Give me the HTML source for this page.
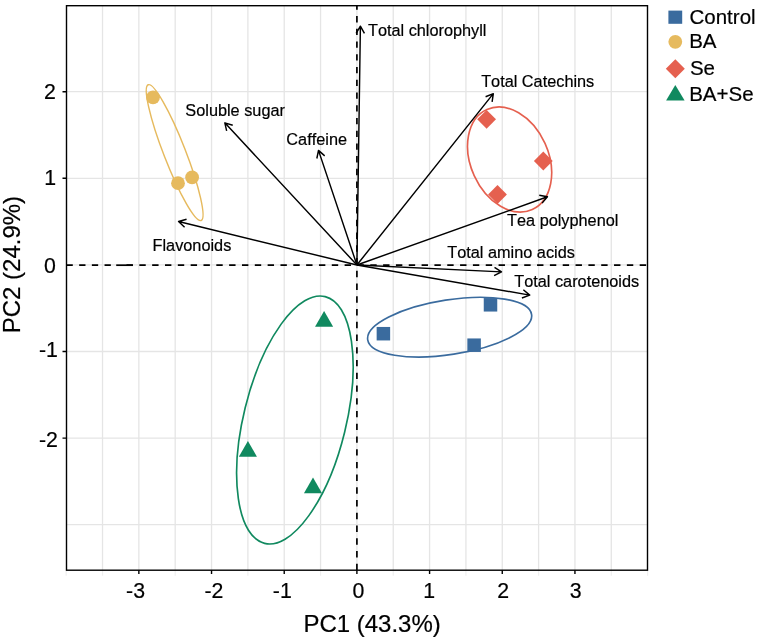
<!DOCTYPE html>
<html><head><meta charset="utf-8"><title>PCA biplot</title>
<style>html,body{margin:0;padding:0;background:#fff}svg{display:block}text{font-family:"Liberation Sans",Arial,Helvetica,sans-serif;fill:#000;stroke:#000;stroke-width:0.2px;font-kerning:none}</style></head><body>
<svg width="757" height="640" viewBox="0 0 757 640">
<rect width="757" height="640" fill="#fff"/>
<path d="M102.52 5.7V570.2M138.86 5.7V570.2M175.20 5.7V570.2M211.54 5.7V570.2M247.88 5.7V570.2M284.22 5.7V570.2M320.56 5.7V570.2M356.90 5.7V570.2M393.24 5.7V570.2M429.58 5.7V570.2M465.92 5.7V570.2M502.26 5.7V570.2M538.60 5.7V570.2M574.94 5.7V570.2M611.28 5.7V570.2M66.5 524.70H647.5M66.5 438.10H647.5M66.5 351.50H647.5M66.5 264.90H647.5M66.5 178.30H647.5M66.5 91.70H647.5" stroke="#e5e5e5" stroke-width="1.3" fill="none"/>
<path d="M66.5 265.2H116.2" stroke="#000" stroke-width="1.7" stroke-dasharray="6.3 6.38" fill="none"/>
<path d="M116.2 265.2H132.9" stroke="#000" stroke-width="1.7" fill="none"/>
<path d="M126.5 265.2H647.5" stroke="#000" stroke-width="1.7" stroke-dasharray="6.4 6.43" fill="none"/>
<path d="M356.9 570.2V5.7" stroke="#000" stroke-width="1.7" stroke-dasharray="6.4 6.34" fill="none"/>
<ellipse cx="174.65" cy="152.60" rx="72.86" ry="10.90" transform="rotate(68.70 174.65 152.60)" fill="none" stroke="#e6ba5e" stroke-width="1.45"/>
<ellipse cx="509.6" cy="159.5" rx="54.9" ry="38.9" transform="rotate(65.6 509.6 159.5)" fill="none" stroke="#e5604f" stroke-width="1.65"/>
<ellipse cx="449.65" cy="327.15" rx="82.91" ry="27.36" transform="rotate(171.23 449.65 327.15)" fill="none" stroke="#3a6b9e" stroke-width="1.65"/>
<ellipse cx="294.90" cy="420.00" rx="127.05" ry="51.19" transform="rotate(103.78 294.90 420.00)" fill="none" stroke="#10895f" stroke-width="1.65"/>
<path d="M356.9 265.0L360.39 26.20M356.14 33.33L360.39 26.20L364.44 33.45" stroke="#000" stroke-width="1.45" fill="none" stroke-linejoin="round" stroke-linecap="butt"/>
<path d="M356.9 265.0L493.33 93.67M485.60 96.71L493.33 93.67L492.10 101.88" stroke="#000" stroke-width="1.45" fill="none" stroke-linejoin="round" stroke-linecap="butt"/>
<path d="M356.9 265.0L547.44 196.80M539.27 195.32L547.44 196.80L542.07 203.13" stroke="#000" stroke-width="1.45" fill="none" stroke-linejoin="round" stroke-linecap="butt"/>
<path d="M356.9 265.0L501.50 271.87M494.52 267.39L501.50 271.87L494.12 275.68" stroke="#000" stroke-width="1.45" fill="none" stroke-linejoin="round" stroke-linecap="butt"/>
<path d="M356.9 265.0L529.71 295.10M523.34 289.78L529.71 295.10L521.92 297.95" stroke="#000" stroke-width="1.45" fill="none" stroke-linejoin="round" stroke-linecap="butt"/>
<path d="M356.9 265.0L318.49 150.37M316.84 158.50L318.49 150.37L324.71 155.87" stroke="#000" stroke-width="1.45" fill="none" stroke-linejoin="round" stroke-linecap="butt"/>
<path d="M356.9 265.0L224.81 122.84M226.66 130.93L224.81 122.84L232.74 125.28" stroke="#000" stroke-width="1.45" fill="none" stroke-linejoin="round" stroke-linecap="butt"/>
<path d="M356.9 265.0L178.58 221.54M184.58 227.28L178.58 221.54L186.55 219.21" stroke="#000" stroke-width="1.45" fill="none" stroke-linejoin="round" stroke-linecap="butt"/>
<circle cx="153" cy="97.3" r="6.9" fill="#e6ba5e"/>
<circle cx="178" cy="183.2" r="6.9" fill="#e6ba5e"/>
<circle cx="192.1" cy="177.4" r="6.9" fill="#e6ba5e"/>
<path d="M477.20 119.3L486.6 109.90L496.00 119.3L486.6 128.70Z" fill="#e5604f"/>
<path d="M533.90 161L543.3 151.60L552.70 161L543.3 170.40Z" fill="#e5604f"/>
<path d="M488.10 194.5L497.5 185.10L506.90 194.5L497.5 203.90Z" fill="#e5604f"/>
<rect x="376.65" y="326.95" width="13.5" height="13.5" fill="#3a6b9e"/>
<rect x="483.75" y="298.05" width="13.5" height="13.5" fill="#3a6b9e"/>
<rect x="467.35" y="338.45" width="13.5" height="13.5" fill="#3a6b9e"/>
<path d="M324.1 310.90L333.15 326.70L315.05 326.70Z" fill="#10895f"/>
<path d="M247.9 440.90L256.95 456.70L238.85 456.70Z" fill="#10895f"/>
<path d="M313 477.50L322.05 493.30L303.95 493.30Z" fill="#10895f"/>
<path d="M66.18 570.2v5.5M102.52 570.2v5.5M175.20 570.2v5.5M247.88 570.2v5.5M320.56 570.2v5.5M393.24 570.2v5.5M465.92 570.2v5.5M538.60 570.2v5.5M611.28 570.2v5.5M647.62 570.2v5.5" stroke="#efefef" stroke-width="1.2" fill="none"/>
<rect x="66.5" y="5.7" width="581.0" height="564.50" fill="none" stroke="#000" stroke-width="1.4"/>
<path d="M138.86 570.2v3.8M211.54 570.2v3.8M284.22 570.2v3.8M356.90 570.2v3.8M429.58 570.2v3.8M502.26 570.2v3.8M574.94 570.2v3.8M66.5 438.10h-4M66.5 351.50h-4M66.5 178.30h-4M66.5 91.70h-4" stroke="#000" stroke-width="1.4" fill="none"/>
<text x="126.05" y="598.00" font-size="21.3">-3</text>
<text x="204.38" y="598.00" font-size="21.3">-2</text>
<text x="272.82" y="598.00" font-size="21.3">-1</text>
<text x="352.52" y="598.00" font-size="21.3">0</text>
<text x="423.30" y="598.00" font-size="21.3">1</text>
<text x="497.18" y="598.00" font-size="21.3">2</text>
<text x="569.83" y="598.00" font-size="21.3">3</text>
<text x="43.88" y="99.00" font-size="21.3">2</text>
<text x="44.20" y="185.00" font-size="21.3">1</text>
<text x="43.88" y="273.00" font-size="21.3">0</text>
<text x="38.92" y="357.00" font-size="21.3">-1</text>
<text x="38.88" y="447.00" font-size="21.3">-2</text>
<text x="367.95" y="36.00" font-size="16.3">Total chlorophyll</text>
<text x="481.15" y="87.00" font-size="16.3">Total Catechins</text>
<text x="507.05" y="226.00" font-size="16.3">Tea polyphenol</text>
<text x="447.25" y="258.00" font-size="16.3">Total amino acids</text>
<text x="514.25" y="287.00" font-size="16.3">Total carotenoids</text>
<text x="286.35" y="145.00" font-size="16.3">Caffeine</text>
<text x="185.35" y="116.00" font-size="16.3">Soluble sugar</text>
<text x="152.55" y="251.00" font-size="16.3">Flavonoids</text>
<text x="689.50" y="24.00" font-size="20.5">Control</text>
<text x="689.15" y="48.00" font-size="20.5">BA</text>
<text x="689.90" y="75.00" font-size="20.5">Se</text>
<text x="689.15" y="101.00" font-size="20.5">BA+Se</text>
<text x="303.40" y="632.00" font-size="24">PC1 (43.3%)</text>
<text transform="translate(20.4 264.6) rotate(-90)" font-size="24" text-anchor="middle">PC2 (24.9%)</text>
<rect x="668.4" y="10.6" width="13.8" height="13.2" fill="#3a6b9e"/>
<circle cx="675.3" cy="41.8" r="6.9" fill="#e6ba5e"/>
<path d="M665.8 68.8L675.3 59.3L684.8 68.8L675.3 78.3Z" fill="#e5604f"/>
<path d="M675.3 85.1L684.6 100.6L666.1 100.6Z" fill="#10895f"/>
</svg></body></html>
